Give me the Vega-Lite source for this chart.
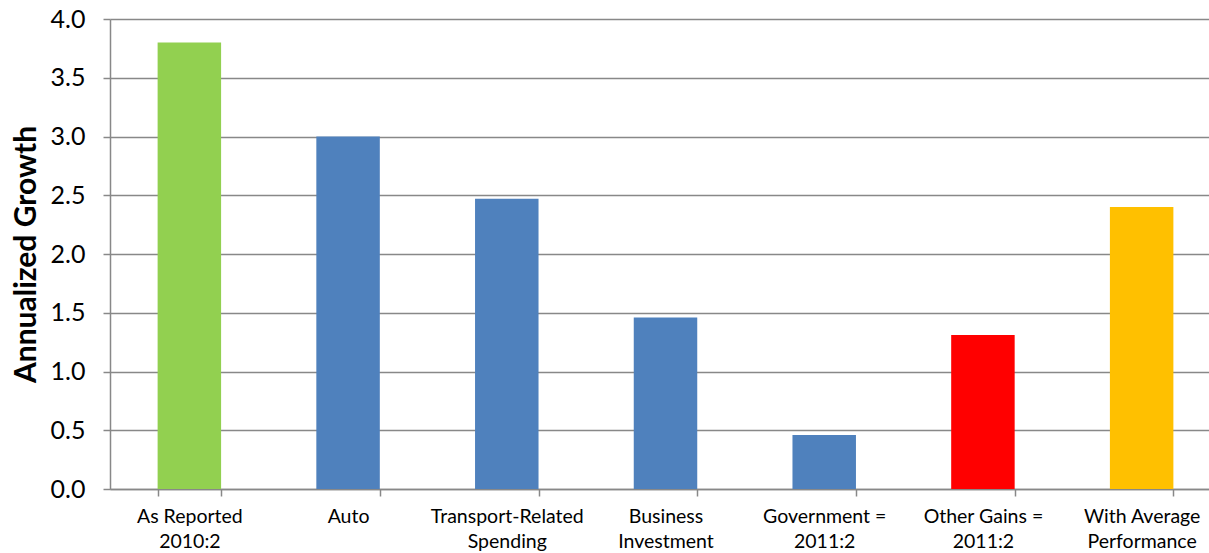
{
  "$schema": "https://vega.github.io/schema/vega-lite/v6.json",
  "autosize": {"type": "none"},
  "width": 1111,
  "height": 470,
  "padding": {"left": 110, "top": 19, "right": 0, "bottom": 64},
  "background": "white",
  "config": {"view": {"stroke": null}, "font": "Lato"},
  "data": {
    "values": [
      {"cat": "As Reported|2010:2", "value": 3.80, "grp": "reported"},
      {"cat": "Auto", "value": 3.00, "grp": "blue"},
      {"cat": "Transport-Related|Spending", "value": 2.47, "grp": "blue"},
      {"cat": "Business|Investment", "value": 1.46, "grp": "blue"},
      {"cat": "Government =|2011:2", "value": 0.46, "grp": "blue"},
      {"cat": "Other Gains =|2011:2", "value": 1.31, "grp": "red"},
      {"cat": "With Average|Performance", "value": 2.40, "grp": "avg"}
    ]
  },
  "mark": {"type": "bar"},
  "encoding": {
    "x": {
      "field": "cat", "type": "nominal", "sort": null,
      "scale": {"paddingInner": 0.6, "paddingOuter": 0.3},
      "axis": {
        "title": null, "labelAngle": 0, "labelExpr": "split(datum.label, '|')",
        "labelFont": "Lato", "labelFontSize": 19.5, "labelColor": "#000000",
        "labelPadding": 11, "labelLineHeight": 25,
        "tickBand": "extent", "tickSize": 7, "tickColor": "#888888", "tickWidth": 1.5,
        "domainColor": "#888888", "domainWidth": 1.5, "grid": false
      }
    },
    "y": {
      "field": "value", "type": "quantitative",
      "scale": {"domain": [0, 4], "nice": false},
      "axis": {
        "title": "Annualized Growth", "titleFont": "Lato", "titleFontSize": 30,
        "titleFontWeight": "bold", "titleColor": "#000000", "titlePadding": 9,
        "values": [0, 0.5, 1, 1.5, 2, 2.5, 3, 3.5, 4],
        "labelExpr": "format(datum.value, '.1f')",
        "labelFont": "Lato", "labelFontSize": 25, "labelColor": "#000000",
        "labelPadding": 18, "tickSize": 7, "tickColor": "#888888", "tickWidth": 1.5,
        "domainColor": "#888888", "domainWidth": 1.5,
        "grid": true, "gridColor": "#888888", "gridWidth": 1.5
      }
    },
    "color": {
      "field": "grp", "type": "nominal", "legend": null,
      "scale": {"domain": ["reported", "blue", "red", "avg"], "range": ["#92D050", "#4F81BD", "#FF0000", "#FFC000"]}
    }
  }
}
